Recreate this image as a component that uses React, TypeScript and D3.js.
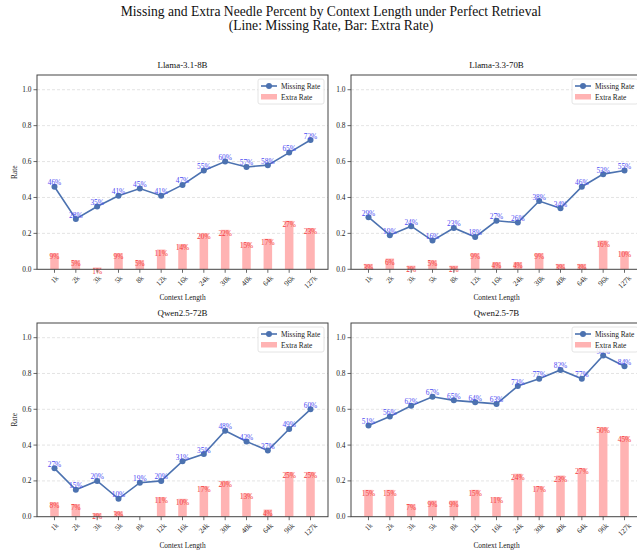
import React from "react";
import * as d3 from "d3";

// context lengths on the x axis
const contextLengths = ["1k", "2k", "3k", "5k", "8k", "12k", "16k", "24k", "30k", "40k", "64k", "96k", "127k"];

const modelNames = ["Llama-3.1-8B", "Llama-3.3-70B", "Qwen2.5-72B", "Qwen2.5-7B"];

// missing rate (line), per model
const missingLlama8B = [0.46, 0.28, 0.35, 0.41, 0.45, 0.41, 0.47, 0.55, 0.60, 0.57, 0.58, 0.65, 0.72];
const missingLlama70B = [0.29, 0.19, 0.24, 0.16, 0.23, 0.18, 0.27, 0.26, 0.38, 0.34, 0.46, 0.53, 0.55];
const missingQwen72B = [0.27, 0.15, 0.20, 0.10, 0.19, 0.20, 0.31, 0.35, 0.48, 0.42, 0.37, 0.49, 0.60];
const missingQwen7B = [0.51, 0.56, 0.62, 0.67, 0.65, 0.64, 0.63, 0.73, 0.77, 0.82, 0.77, 0.90, 0.84];

// extra rate (bars), per model
const extraLlama8B = [0.09, 0.05, 0.01, 0.09, 0.05, 0.11, 0.14, 0.20, 0.22, 0.15, 0.17, 0.27, 0.23];
const extraLlama70B = [0.03, 0.06, 0.02, 0.05, 0.02, 0.09, 0.04, 0.04, 0.09, 0.03, 0.03, 0.16, 0.10];
const extraQwen72B = [0.08, 0.07, 0.02, 0.03, 0.0, 0.11, 0.10, 0.17, 0.20, 0.13, 0.04, 0.25, 0.25];
const extraQwen7B = [0.15, 0.15, 0.07, 0.09, 0.09, 0.15, 0.11, 0.24, 0.17, 0.23, 0.27, 0.50, 0.45];

const missingSeries = [missingLlama8B, missingLlama70B, missingQwen72B, missingQwen7B];
const extraSeries = [extraLlama8B, extraLlama70B, extraQwen72B, extraQwen7B];

const yTicks = [0, 0.2, 0.4, 0.6, 0.8, 1.0];

const FONT = "'Liberation Serif', 'Times New Roman', serif";
const LINE_COLOR = "#4c72b0";
const BAR_COLOR = "#ffb3b3";
const MISS_TEXT = "#4d4df2";
const EXTRA_TEXT = "#f43c3c";

// panel boxes: [left, right, top, bottom]
const panels = [
    [37, 328, 75, 269.3],
    [351, 642, 75, 269.3],
    [37, 328, 323, 516.7],
    [351, 642, 323, 516.7],
];

function Panel({ idx }: { idx: number }) {
    const [left, right, top, bottom] = panels[idx];
    const missing = missingSeries[idx];
    const extra = extraSeries[idx];
    const n = contextLengths.length;
    const barW = 0.4;

    const x = d3.scaleLinear().domain([-barW / 2 - 0.62, n - 1 + barW / 2 + 0.62]).range([left, right]);
    const y = d3.scaleLinear().domain([0, 1.082]).range([bottom, top]);

    const line = d3.line<number>()
        .x((_, i) => x(i))
        .y(d => y(d));

    const showYLabel = idx % 2 === 0;
    const cx = (left + right) / 2;

    return (
        <g fontFamily={FONT}>
            {/* grid */}
            {yTicks.filter(t => t > 0).map(t => (
                <line key={"g" + t} x1={left} x2={right} y1={y(t)} y2={y(t)}
                    stroke="#d8d8d8" strokeWidth={0.7} strokeDasharray="3,2" />
            ))}

            {/* bars */}
            {extra.map((v, i) => (
                <rect key={"b" + i} x={x(i - barW / 2)} y={y(v)} width={x(barW) - x(0)}
                    height={y(0) - y(v)} fill={BAR_COLOR} />
            ))}

            {/* missing-rate line */}
            <path d={line(missing) || ""} fill="none" stroke={LINE_COLOR} strokeWidth={1.6} />
            {missing.map((v, i) => (
                <circle key={"c" + i} cx={x(i)} cy={y(v)} r={3} fill={LINE_COLOR} />
            ))}

            {/* bar labels */}
            {extra.map((v, i) => v > 0 ? (
                <text key={"et" + i} x={x(i)} y={y(v) + 6} textAnchor="middle" fontSize={7.4} fill={EXTRA_TEXT}>
                    {Math.round(v * 100)}%
                </text>
            ) : null)}

            {/* line labels */}
            {missing.map((v, i) => (
                <text key={"mt" + i} x={x(i)} y={y(v) - 1.5} textAnchor="middle" fontSize={7.4} fill={MISS_TEXT}>
                    {Math.round(v * 100)}%
                </text>
            ))}

            {/* frame */}
            <rect x={left} y={top} width={right - left} height={bottom - top} fill="none" stroke="#444" strokeWidth={1} />

            {/* y axis */}
            {yTicks.map(t => (
                <g key={"yt" + t}>
                    <line x1={left - 3.5} x2={left} y1={y(t)} y2={y(t)} stroke="#444" strokeWidth={0.8} />
                    <text x={left - 5.5} y={y(t) + 2.6} textAnchor="end" fontSize={7.4} fill="#222">{t.toFixed(1)}</text>
                </g>
            ))}

            {/* x axis */}
            {contextLengths.map((c, i) => {
                const w = c.length * 3.8;
                const half = (w + 5.5) * 0.707 / 2;
                return (
                    <g key={"xt" + i}>
                        <line x1={x(i)} x2={x(i)} y1={bottom} y2={bottom + 3.5} stroke="#444" strokeWidth={0.8} />
                        <text transform={`translate(${x(i)},${bottom + 5.5 + half}) rotate(-45)`}
                            textAnchor="middle" dominantBaseline="central" fontSize={7.4} fill="#222">{c}</text>
                    </g>
                );
            })}

            <text x={cx} y={bottom + 31} textAnchor="middle" fontSize={7.4} fill="#222">Context Length</text>
            {showYLabel && (
                <text transform={`translate(14,${(top + bottom) / 2}) rotate(-90)`} textAnchor="middle"
                    dominantBaseline="central" fontSize={7.4} fill="#222">Rate</text>
            )}

            <text x={cx} y={top - 7} textAnchor="middle" fontSize={8.9} fill="#111">{modelNames[idx]}</text>

            {/* legend */}
            <g transform={`translate(${right - 70},${top + 4})`}>
                <rect x={0} y={0} width={66} height={25} rx={2} fill="white" fillOpacity={0.85} stroke="#ddd" strokeWidth={0.8} />
                <line x1={3} x2={19} y1={7} y2={7} stroke={LINE_COLOR} strokeWidth={1.6} />
                <circle cx={11} cy={7} r={3} fill={LINE_COLOR} />
                <text x={23} y={9.6} fontSize={7.4} fill="#222">Missing Rate</text>
                <rect x={3} y={15} width={16} height={5.5} fill={BAR_COLOR} />
                <text x={23} y={20.8} fontSize={7.4} fill="#222">Extra Rate</text>
            </g>
        </g>
    );
}

export default function App() {
    return (
        <svg width={637} height={554} style={{ position: "absolute", left: 0, top: 0, display: "block", background: "white" }}>
            <rect width={637} height={554} fill="white" />
            <text x={331} y={15.5} textAnchor="middle" fontFamily={FONT} fontSize={13.6} fill="#111">
                Missing and Extra Needle Percent by Context Length under Perfect Retrieval
            </text>
            <text x={331} y={29.8} textAnchor="middle" fontFamily={FONT} fontSize={13.6} fill="#111">
                (Line: Missing Rate, Bar: Extra Rate)
            </text>
            {modelNames.map((_, i) => <Panel key={i} idx={i} />)}
        </svg>
    );
}
